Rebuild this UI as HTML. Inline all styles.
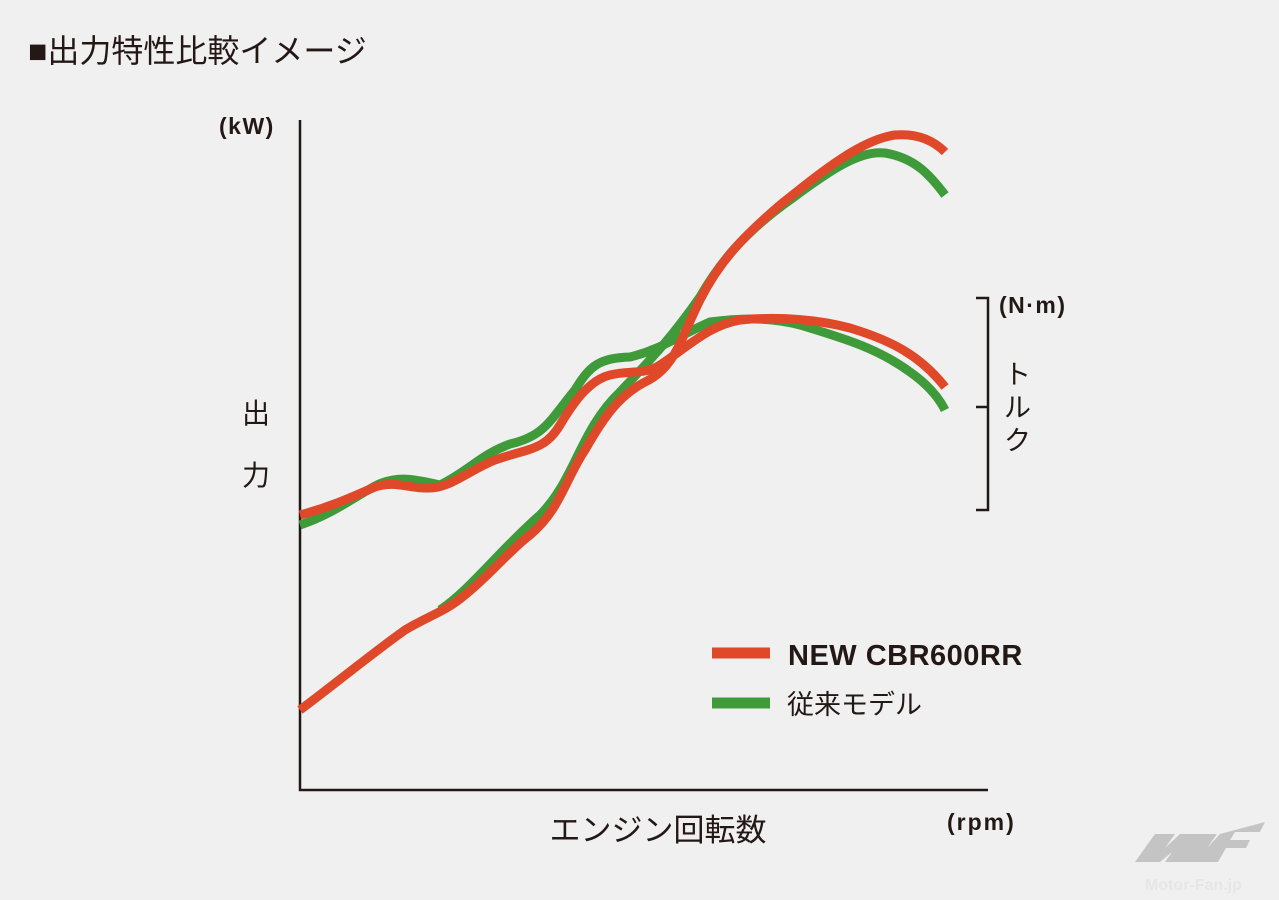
<!DOCTYPE html>
<html><head><meta charset="utf-8"><style>
body{margin:0;background:#f0f0f0;}
svg{display:block;font-family:"Liberation Sans","Noto Sans CJK JP",sans-serif;}
</style></head><body>
<svg width="1279" height="900" viewBox="0 0 1279 900">
<rect width="1279" height="900" fill="#f0f0f0"/>
<text x="28" y="62" font-size="32" fill="#231815">■出力特性比較イメージ</text>
<text x="219" y="134" font-size="23" font-weight="bold" fill="#231815" letter-spacing="1.5">(kW)</text>
<text x="242" y="423" font-size="28" fill="#231815">出</text>
<text x="242" y="485" font-size="28" fill="#231815">力</text>
<text x="999" y="313" font-size="23" font-weight="bold" fill="#231815" letter-spacing="1.5">(N·m)</text>
<text x="1004" y="384" font-size="27" fill="#231815">ト</text>
<text x="1004" y="417" font-size="27" fill="#231815">ル</text>
<text x="1004" y="450" font-size="27" fill="#231815">ク</text>
<text x="658" y="841" font-size="31" text-anchor="middle" fill="#231815">エンジン回転数</text>
<text x="947" y="830" font-size="23" font-weight="bold" fill="#231815" letter-spacing="2">(rpm)</text>
<g stroke="#231815" stroke-width="2.5" fill="none">
<path d="M300 120 V790 H988"/>
<path d="M976 298 H988 V510 H976 M976 407 H988"/>
</g>
<g fill="none" stroke-width="9" stroke-linecap="butt" stroke-linejoin="round">
<path stroke="#3f9a3a" d="M440 610 C470 590 500 550 540 515 C575 480 580 430 620 392 C650 360 670 340 700 297 C720 262 745 232 790 200 C830 170 860 150 885 153 C915 158 930 175 945 195"/>
<path stroke="#3f9a3a" d="M300 525 C330 515 350 500 375 486 C395 476 410 478 440 485 C470 470 480 455 510 444 C545 436 550 420 575 390 C590 365 600 358 630 357 C660 350 680 335 710 322 C740 318 770 317 800 325 C850 340 880 350 910 372 C930 386 940 400 945 410"/>
<path stroke="#e0482a" d="M300 710 C340 680 370 655 405 630 C430 615 445 612 465 595 C490 575 510 550 530 535 C560 510 565 480 585 450 C605 415 620 395 645 382 C675 368 680 340 700 300 C720 260 745 235 780 205 C820 173 860 140 895 135 C920 133 935 142 945 152"/>
<path stroke="#e0482a" d="M300 515 C330 507 350 498 375 487 C395 480 410 489 430 488 C450 488 470 470 495 460 C530 448 545 450 560 425 C575 400 590 380 610 375 C630 370 645 375 660 365 C690 345 710 325 740 320 C780 316 820 320 850 328 C890 340 920 355 945 387"/>
</g>
<line x1="712" y1="653" x2="770" y2="653" stroke="#e0482a" stroke-width="11"/>
<line x1="712" y1="703" x2="770" y2="703" stroke="#3f9a3a" stroke-width="11"/>
<text x="788" y="665" font-size="29" font-weight="bold" fill="#231815" letter-spacing="0.5">NEW CBR600RR</text>
<text x="787" y="714" font-size="27" fill="#231815">従来モデル</text>
<g fill="#c4c4c4">
<polygon points="1135,862 1155,834 1175,834 1165,848 1180,834 1198,834 1185,862 1165,862 1172,852 1160,862"/>
<polygon points="1178,862 1198,834 1217,834 1207,848 1220,834 1265,822 1260,832 1235,832 1230,840 1250,840 1246,848 1226,848 1218,862 1198,862 1205,852 1200,862"/>
</g>
<text x="1145" y="890" font-size="16" font-weight="bold" fill="#e6e6e6">Motor-Fan.jp</text>
</svg>
</body></html>
